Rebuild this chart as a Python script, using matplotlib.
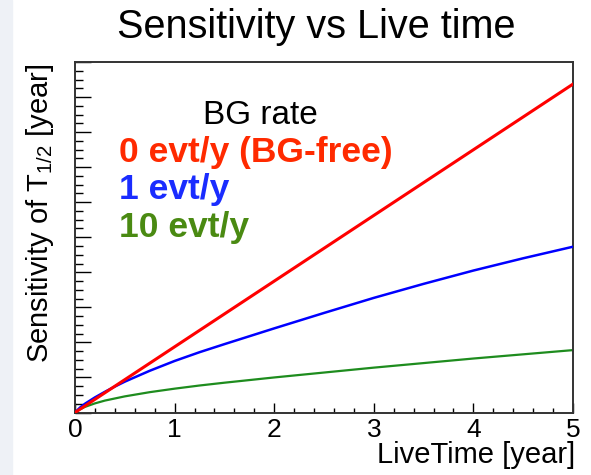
import numpy as np
import matplotlib
matplotlib.use("Agg")
import matplotlib.pyplot as plt
from matplotlib.ticker import MultipleLocator, NullFormatter
from matplotlib.patches import Rectangle

plt.rcParams['font.family'] = ['Liberation Sans', 'DejaVu Sans']
plt.rcParams['mathtext.fontset'] = 'custom'
plt.rcParams['mathtext.rm'] = 'Liberation Sans'
plt.rcParams['mathtext.it'] = 'Liberation Sans'

# live time [year] and T1/2 sensitivity (arbitrary units) for each BG rate
live_bgfree = [0.0, 5.0]
sens_bgfree = [0.0, 9.37]

live_bg = [0.0, 0.05, 0.1, 0.2, 0.3, 0.4, 0.5, 0.75, 1.0, 1.25, 1.5,
           2.0, 2.5, 3.0, 3.5, 4.0, 4.5, 5.0]
sens_bg1 = [0.0, 0.14, 0.25, 0.43, 0.59, 0.74, 0.88, 1.19, 1.47, 1.72, 1.95,
            2.40, 2.84, 3.27, 3.67, 4.05, 4.40, 4.73]
sens_bg10 = [0.0, 0.09, 0.16, 0.26, 0.34, 0.40, 0.46, 0.58, 0.68, 0.77, 0.85,
             1.00, 1.14, 1.28, 1.41, 1.54, 1.66, 1.78]

legend_labels = ["0 evt/y (BG-free)", "1 evt/y", "10 evt/y"]
line_colors = ["#ff0000", "#0000ff", "#1e8c1e"]
text_colors = ["#ff2a00", "#1a2cff", "#4a8a12"]

fig = plt.figure(figsize=(5.91, 4.75), dpi=100)
fig.patches.append(Rectangle((0, 0), 12 / 591, 1, transform=fig.transFigure,
                             color="#eef1f6", zorder=0))

ax = fig.add_axes([75 / 591, 1 - 412.5 / 475, 498 / 591, 350.5 / 475])

ax.plot(live_bgfree, sens_bgfree, color=line_colors[0], lw=2.2, zorder=4)
ax.plot(live_bg, sens_bg1, color=line_colors[1], lw=1.8, zorder=3)
ax.plot(live_bg, sens_bg10, color=line_colors[2], lw=1.6, zorder=2)

ax.set_xlim(0, 5)
ax.set_ylim(0, 10)

ax.xaxis.set_major_locator(MultipleLocator(1))
ax.xaxis.set_minor_locator(MultipleLocator(0.2))
ax.yaxis.set_major_locator(MultipleLocator(1))
ax.yaxis.set_minor_locator(MultipleLocator(0.25))
ax.yaxis.set_major_formatter(NullFormatter())

ax.tick_params(axis='x', which='major', direction='in', length=7.2, width=1.0,
               labelsize=19, pad=4, top=False)
ax.tick_params(axis='x', which='minor', direction='in', length=3.6, width=1.0, top=False)
ax.tick_params(axis='y', which='major', direction='in', length=11.5, width=1.0, right=False)
ax.tick_params(axis='y', which='minor', direction='in', length=5.8, width=1.0, right=False)

for sp in ax.spines.values():
    sp.set_linewidth(1.4)
    sp.set_color("#333333")

fig.text(575 / 591, 1 - 455 / 475, "LiveTime [year]",
         ha='right', va='center', fontsize=21)
fig.text(40 / 591, 1 - 63 / 475, r"Sensitivity of T$_{1/2}$ [year]", rotation=90,
         ha='center', va='top', fontsize=21)

fig.text(316 / 591, 1 - 27 / 475, "Sensitivity vs Live time",
         ha='center', va='center', fontsize=28.5)

fig.text(260 / 591, 1 - 116 / 475, "BG rate",
         ha='center', va='center', fontsize=24)
for i, lab in enumerate(legend_labels):
    fig.text(119 / 591, 1 - (153 + 37 * i) / 475, lab, color=text_colors[i],
             ha='left', va='center', fontsize=25.5, fontweight='bold')

fig.savefig("out.png", dpi=100)
